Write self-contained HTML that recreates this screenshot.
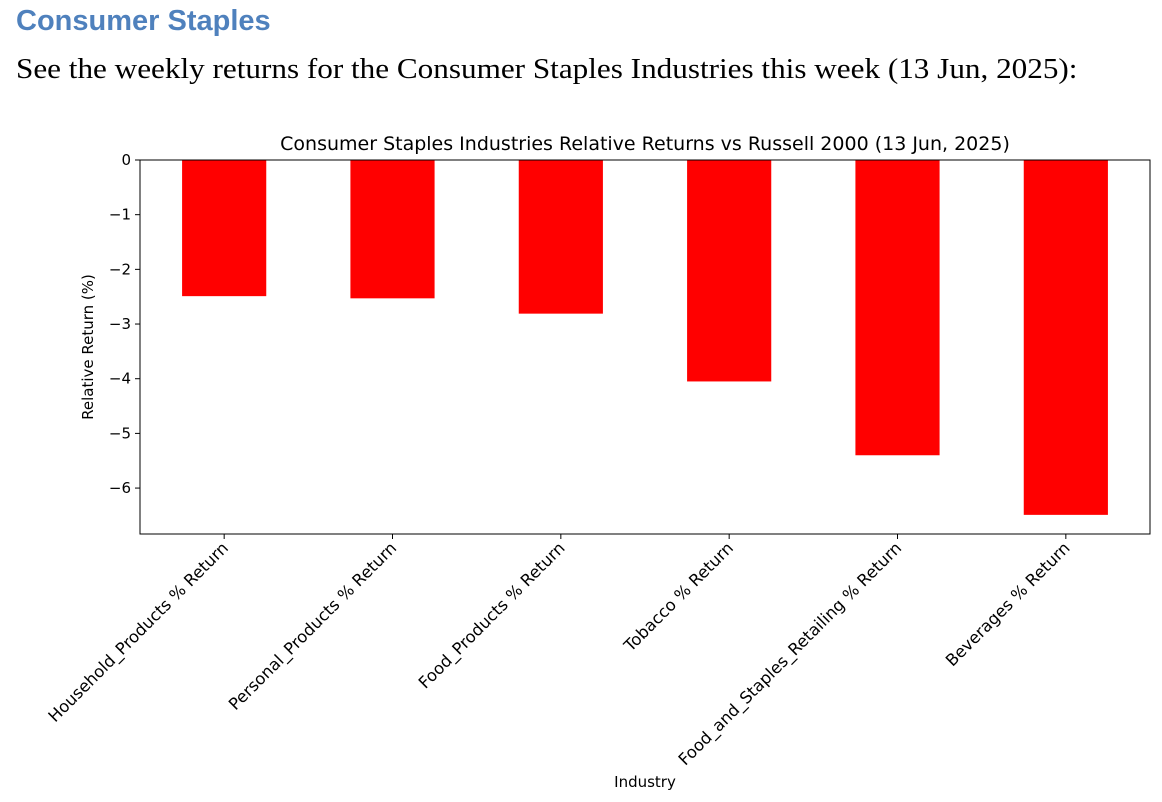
<!DOCTYPE html>
<html><head><meta charset="utf-8"><style>
body{margin:0;width:1162px;height:802px;background:#fff;overflow:hidden;position:relative}
h1{position:absolute;left:16px;top:5px;margin:0;font:bold 29px "Liberation Sans",sans-serif;color:#4f81bd}
p{position:absolute;left:16px;top:53px;margin:0;font:29px "Liberation Serif",serif;color:#000;white-space:nowrap;transform-origin:0 0;transform:scaleX(1.075)}
svg{position:absolute;left:0;top:0}
text{font-family:"DejaVu Sans","Liberation Sans",sans-serif;fill:#000}
</style></head><body>
<h1>Consumer Staples</h1>
<p>See the weekly returns for the Consumer Staples Industries this week (13 Jun, 2025):</p>
<svg id="c" width="1162" height="802"></svg>
<script>
const categories=["Household_Products % Return","Personal_Products % Return","Food_Products % Return","Tobacco % Return","Food_and_Staples_Retailing % Return","Beverages % Return"];
const values=[-2.49,-2.53,-2.81,-4.05,-5.40,-6.49];
const yTicks=[0,-1,-2,-3,-4,-5,-6];
const yTickLabels=["0","\u22121","\u22122","\u22123","\u22124","\u22125","\u22126"];
const svg=document.getElementById('c'),NS="http://www.w3.org/2000/svg";
const L=140,R=1150,T=160,B=534,yMin=-6.84;
const y=v=>T+(0-v)/(0-yMin)*(B-T);
const step=(R-L)/categories.length;
const x=i=>L+step*(i+0.5);
const bw=step*0.5;
function mk(t,a,p){const e=document.createElementNS(NS,t);for(const k in a)e.setAttribute(k,a[k]);(p||svg).appendChild(e);return e;}
values.forEach((v,i)=>{
 const r=mk('rect',{x:x(i)-bw/2,y:y(0),width:bw,height:y(v)-y(0),fill:'#ff0000'});
 
 
});
const ax=mk('rect',{x:L,y:T,width:R-L,height:B-T,fill:'none',stroke:'#000','stroke-width':1});


yTicks.forEach((t,i)=>{
 mk('line',{x1:L-5,x2:L,y1:y(t),y2:y(t),stroke:'#000'});
 const tx=mk('text',{x:L-9,y:y(t)+5,'text-anchor':'end','font-size':15});
 tx.textContent=yTickLabels[i];
 
 
});
categories.forEach((c,i)=>{
 mk('line',{x1:x(i),x2:x(i),y1:B,y2:B+5,stroke:'#000'});
 const tx=mk('text',{x:0,y:0,'text-anchor':'end','font-size':16.4,transform:`translate(${x(i)+5},${B+15}) rotate(-45)`});
 tx.textContent=c;
 
 
});
const tt=mk('text',{x:(L+R)/2,y:150,'text-anchor':'middle','font-size':19});
tt.textContent="Consumer Staples Industries Relative Returns vs Russell 2000 (13 Jun, 2025)";


const yl=mk('text',{x:0,y:0,'text-anchor':'middle','font-size':15,transform:`translate(93,${(T+B)/2}) rotate(-90)`});
yl.textContent="Relative Return (%)";


const xl=mk('text',{x:645,y:787,'text-anchor':'middle','font-size':15});
xl.textContent="Industry";


</script>
</body></html>
